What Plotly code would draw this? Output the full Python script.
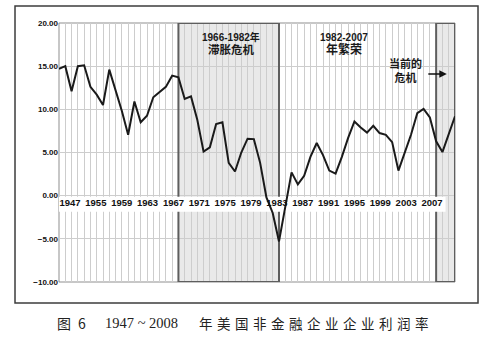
import plotly.graph_objects as go

# Annual profit rate of US non-financial corporations, percent
years = list(range(1947, 2011))
rates = [
    14.7, 15.0, 12.1, 15.0, 15.1, 12.6, 11.7, 10.5, 14.6, 12.3,
    9.8, 7.05, 10.9, 8.5, 9.25, 11.4, 11.95, 12.6, 13.9, 13.7,
    11.2, 11.5, 8.8, 5.1, 5.6, 8.3, 8.5, 3.8, 2.8, 5.0,
    6.6, 6.55, 3.8, -0.2, -2.0, -5.3, -1.3, 2.7, 1.3, 2.3,
    4.5, 6.1, 4.7, 2.9, 2.55, 4.5, 6.7, 8.6, 7.9, 7.3,
    8.1, 7.25, 7.05, 6.2, 2.9, 4.9, 7.05, 9.55, 10.05, 9.05,
    6.3, 5.05, 7.05, 9.2,
]

# Axis labels along the zero line
x_labels = ["1947", "1955", "1959", "1963", "1967", "1971", "1975", "1979",
            "1983", "1987", "1991", "1995", "1999", "2003", "2007"]
y_ticks = [-10, -5, 0, 5, 10, 15, 20]

# Periods highlighted on the chart
stagflation = (1966, 1982)
boom = (1982, 2007)
current = (2007, 2010)

# label layout along the x axis
label_start, label_step = 1948.75, 4.114
label_pos = [label_start + i * label_step for i in range(len(x_labels))]

GRID = "#cdcdcd"
BOX_FILL = "#e9e9e9"
BOX_LINE = "#5e5e5e"
LATIN = "Liberation Sans, Noto Sans CJK SC"

fig = go.Figure()
fig.add_trace(go.Scatter(
    x=years, y=rates, mode="lines",
    line=dict(color="#1a1a1a", width=2),
    hoverinfo="skip",
))

shapes = []
# shaded fills (under the grid)
for x0, x1 in (stagflation, current):
    shapes.append(dict(type="rect", xref="x", yref="y", x0=x0, x1=x1, y0=-10, y1=20,
                       fillcolor=BOX_FILL, line=dict(width=0), layer="below"))
# plot frame
shapes.append(dict(type="rect", xref="paper", yref="paper", x0=0, x1=1, y0=0, y1=1,
                   line=dict(color="#8f8f8f", width=1), layer="between"))
# period borders
for x0, x1 in (stagflation, current):
    shapes.append(dict(type="rect", xref="x", yref="y", x0=x0, x1=x1, y0=-10, y1=20,
                       line=dict(color=BOX_LINE, width=2), fillcolor="rgba(0,0,0,0)",
                       layer="between"))
# white strip behind the year labels
shapes.append(dict(type="rect", xref="x", yref="y", x0=1947, x1=2008.5, y0=-1.85, y1=-0.12,
                   fillcolor="white", line=dict(width=0), layer="between"))
# outer frame
shapes.append(dict(type="rect", xref="paper", yref="paper",
                   x0=-0.1111, x1=1.0581, y0=-0.0811, y1=1.0656,
                   line=dict(color="#3c3c3c", width=1.5), layer="above"))

annotations = [
    dict(xref="x", yref="y", x=1974.4, y=17.65, showarrow=False,
         text="<b>1966-1982年<br><span style='font-size:11.5px'>滞胀危机</span></b>",
         font=dict(family=LATIN, size=10, color="#1a1a1a")),
    dict(xref="x", yref="y", x=1992.3, y=17.5, showarrow=False,
         text="<b>1982-2007<br><span style='font-size:12px'>年繁荣</span></b>",
         font=dict(family=LATIN, size=10, color="#1a1a1a")),
    dict(xref="x", yref="y", x=2002.05, y=14.5, showarrow=False,
         text="<b>当前的<br>危机</b>",
         font=dict(family=LATIN, size=11, color="#1a1a1a")),
    dict(xref="x", yref="y", x=2008.7, y=14.1, ax=-20, ay=0, text="",
         showarrow=True, arrowhead=2, arrowsize=1, arrowwidth=1.5, arrowcolor="#111"),
    # caption
    dict(xref="paper", yref="paper", x=-0.0101, y=-0.1583, xanchor="left", yanchor="middle",
         showarrow=False, text="图\u20026", font=dict(family="Noto Sans CJK SC", size=14, color="#222")),
    dict(xref="paper", yref="paper", x=0.1111, y=-0.1583, xanchor="left", yanchor="middle",
         showarrow=False, text="1947 ~ 2008",
         font=dict(family="Liberation Serif", size=14.5, color="#222")),
    dict(xref="paper", yref="paper", x=0.348, y=-0.1583, xanchor="left", yanchor="middle",
         showarrow=False, text="\u2004".join("年美国非金融企业企业利润率"),
         font=dict(family="Noto Sans CJK SC", size=13.5, color="#222")),
]

fig.update_layout(
    template="none",
    width=498, height=350,
    margin=dict(l=59, r=43, t=23, b=68, pad=0),
    paper_bgcolor="white", plot_bgcolor="white",
    showlegend=False,
    xaxis=dict(
        range=[1947, 2010], anchor="free", position=1 / 3, side="bottom",
        tickmode="array", tickvals=label_pos, ticktext=x_labels,
        showgrid=False, showline=False, zeroline=False, ticks="",
        tickfont=dict(family="Liberation Sans", size=9.5, color="#111", weight="bold"),
        minor=dict(tickmode="linear", tick0=1947, dtick=1, showgrid=True,
                   gridcolor=GRID, gridwidth=1, ticks=""),
        automargin=False,
    ),
    yaxis=dict(
        range=[-10, 20], tickmode="array", tickvals=y_ticks,
        tickformat=".2f", ticksuffix="%",
        showgrid=True, gridcolor=GRID, gridwidth=1,
        zeroline=False, showline=False, ticks="",
        tickfont=dict(family="Liberation Sans", size=8, color="#111", weight="bold"),
        automargin=False,
    ),
    shapes=shapes,
    annotations=annotations,
)

fig.write_html("out.html")
